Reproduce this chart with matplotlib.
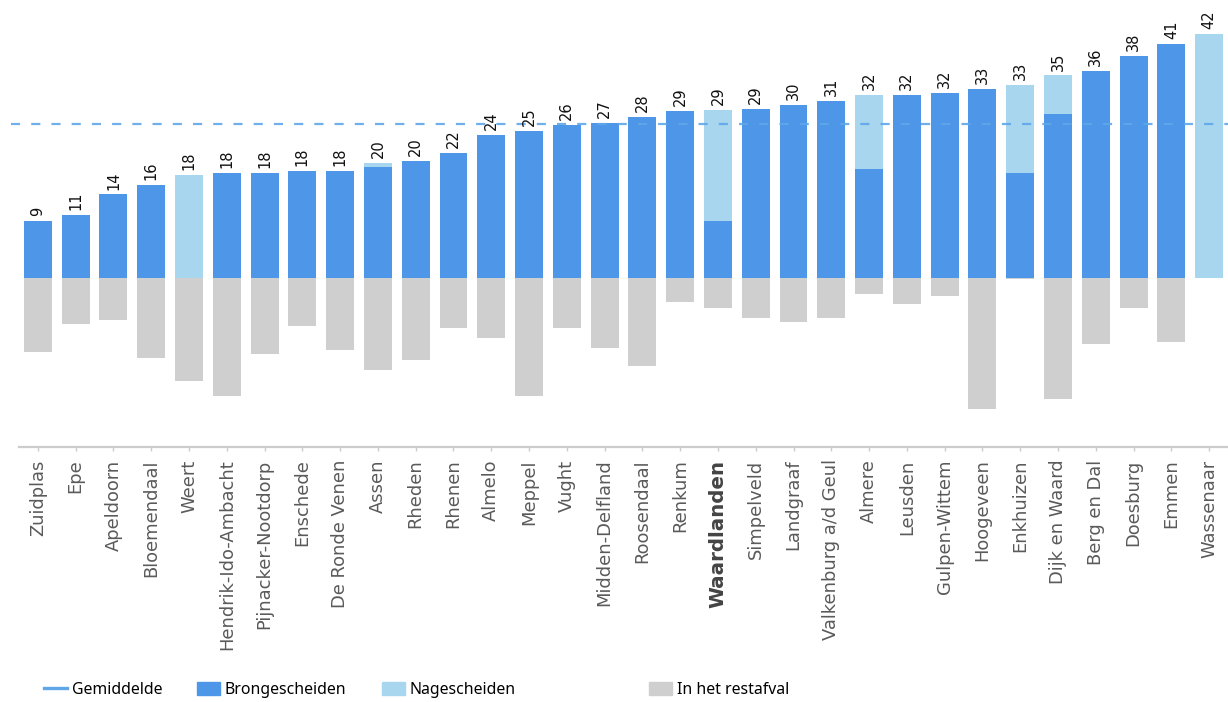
import numpy as np
import matplotlib
matplotlib.use('Agg')
import matplotlib.pyplot as plt
from matplotlib.lines import Line2D
from matplotlib.patches import Patch

# Data
gemeenten = ['Zuidplas', 'Epe', 'Apeldoorn', 'Bloemendaal', 'Weert', 'Hendrik-Ido-Ambacht',
             'Pijnacker-Nootdorp', 'Enschede', 'De Ronde Venen', 'Assen', 'Rheden', 'Rhenen',
             'Almelo', 'Meppel', 'Vught', 'Midden-Delfland', 'Roosendaal', 'Renkum',
             'Waardlanden', 'Simpelveld', 'Landgraaf', 'Valkenburg a/d Geul', 'Almere',
             'Leusden', 'Gulpen-Wittem', 'Hoogeveen', 'Enkhuizen', 'Dijk en Waard',
             'Berg en Dal', 'Doesburg', 'Emmen', 'Wassenaar']
labels = [9, 11, 14, 16, 18, 18, 18, 18, 18, 20, 20, 22, 24, 25, 26, 27, 28, 29, 29, 29,
          30, 31, 32, 32, 32, 33, 33, 35, 36, 38, 41, 42]
brongescheiden = [9.9, 10.9, 14.4, 16.1, 0.0, 18.1, 18.1, 18.4, 18.4, 19.1, 20.2, 21.6,
                  24.6, 25.3, 26.4, 26.7, 27.8, 28.8, 9.8, 29.1, 29.8, 30.5, 18.8,
                  31.6, 31.9, 32.6, 18.1, 28.3, 35.7, 38.3, 40.3, 0.0]
nagescheiden = [0.0, 0.0, 0.0, 0.0, 17.8, 0.0, 0.0, 0.0, 0.0, 0.7, 0.0, 0.0,
                0.0, 0.0, 0.0, 0.0, 0.0, 0.0, 19.2, 0.0, 0.0, 0.0, 12.8,
                0.0, 0.0, 0.0, 15.2, 6.6, 0.0, 0.0, 0.0, 42.1]
restafval = [12.8, 7.9, 7.2, 13.8, 17.8, 20.3, 13.0, 8.2, 12.4, 15.8, 14.1, 8.6,
             10.3, 20.3, 8.6, 12.0, 15.1, 4.1, 5.1, 6.8, 7.5, 6.8, 2.7,
             4.4, 3.1, 22.5, 0.2, 20.8, 11.3, 5.1, 11.0, 0.0]
gemiddelde = 26.5

c_bron = '#4d96e8'
c_na = '#a8d6ef'
c_rest = '#cfcfcf'
c_gem = '#5fa6e9'

fig = plt.figure(figsize=(12.28, 7.02), dpi=100)
ax = fig.add_axes([19 / 1228, 1 - 447 / 702, 1209 / 1228, 447 / 702])

x = np.arange(len(gemeenten))
bron = np.array(brongescheiden)
na = np.array(nagescheiden)
rest = np.array(restafval)

w = 0.74
ax.bar(x, bron, width=w, color=c_bron, zorder=2)
ax.bar(x, na, width=w, bottom=bron, color=c_na, zorder=2)
ax.bar(x, -rest, width=w, color=c_rest, zorder=2)

ax.plot([-0.72, 31.5], [gemiddelde, gemiddelde], color=c_gem, lw=1.6,
        linestyle=(0, (4.1, 5.0)), alpha=0.9, zorder=3, clip_on=False)

for xi, top, lab in zip(x, bron + na, labels):
    ax.annotate(str(lab), (xi, top), xytext=(0, 3.5), textcoords='offset points',
                rotation=90, ha='center', va='bottom', fontsize=10.5,
                family='DejaVu Sans', color='#111111')

ax.set_xlim(-0.5, len(gemeenten) - 0.5)
ax.set_ylim(-29.1, 47.9)
ax.set_yticks([])
for s in ['left', 'right', 'top']:
    ax.spines[s].set_visible(False)
ax.spines['bottom'].set_color('#cccccc')
ax.spines['bottom'].set_linewidth(1.6)

ax.set_xticks(x)
ax.set_xticklabels(gemeenten, rotation=90, fontsize=12.9, color='#5a5a5a',
                   family='DejaVu Sans')
ax.tick_params(axis='x', length=3, width=1, color='#cccccc', pad=6)
for t in ax.get_xticklabels():
    if t.get_text() == 'Waardlanden':
        t.set_fontweight('bold')
        t.set_fontsize(14.3)
        t.set_color('#444444')

# legend, one entry at a time to match the spacing
entries = [
    (Line2D([], [], color=c_gem, lw=2.4), 'Gemiddelde', 44),
    (Patch(color=c_bron), 'Brongescheiden', 197),
    (Patch(color=c_na), 'Nagescheiden', 382),
    (Patch(color=c_rest), 'In het restafval', 649),
]
for handle, text, px in entries:
    fig.legend([handle], [text], loc='center left', bbox_to_anchor=(px / 1228, 1 - 690 / 702),
               frameon=False, borderpad=0, borderaxespad=0, handlelength=1.45,
               handleheight=0.85, handletextpad=0.3,
               prop={'family': 'Noto Sans', 'size': 11.4})

fig.savefig('out.png', dpi=100)
